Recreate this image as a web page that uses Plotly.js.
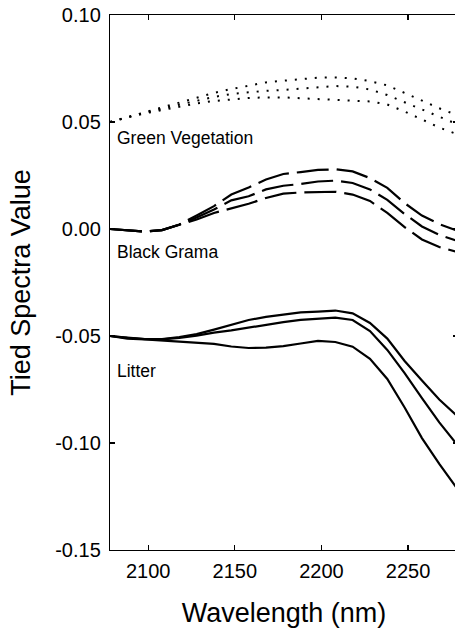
<!DOCTYPE html>
<html>
<head>
<meta charset="utf-8">
<script src="https://cdn.plot.ly/plotly-3.0.1.min.js"></script>
<style>
html,body{margin:0;padding:0;overflow:hidden;background:#fff;}
#chart{width:470px;height:628px;}
</style>
</head>
<body>
<div id="chart"></div>
<script>
// Wavelengths (nm)
const wavelength = [2078,2088,2098,2108,2118,2128,2138,2148,2158,2168,2178,2188,2198,2208,2218,2228,2238,2248,2258,2268,2278];

// Green Vegetation (dotted)
const greenVeg1 = [0.0500,0.0523,0.0544,0.0570,0.0593,0.0614,0.0636,0.0654,0.0671,0.0685,0.0693,0.0700,0.0707,0.0708,0.0704,0.0691,0.0671,0.0636,0.0600,0.0564,0.0533];
const greenVeg2 = [0.0500,0.0523,0.0543,0.0563,0.0582,0.0600,0.0617,0.0631,0.0640,0.0646,0.0650,0.0657,0.0664,0.0668,0.0665,0.0652,0.0626,0.0593,0.0558,0.0524,0.0491];
const greenVeg3 = [0.0500,0.0522,0.0540,0.0556,0.0573,0.0587,0.0598,0.0606,0.0612,0.0615,0.0615,0.0611,0.0607,0.0604,0.0601,0.0596,0.0582,0.0549,0.0512,0.0474,0.0444];

// Black Grama (dashed)
const blackGrama1 = [0.0000,-0.0007,-0.0012,-0.0005,0.0021,0.0063,0.0107,0.0161,0.0194,0.0231,0.0257,0.0266,0.0276,0.0279,0.0269,0.0238,0.0192,0.0121,0.0063,0.0023,-0.0007];
const blackGrama2 = [0.0000,-0.0007,-0.0012,-0.0005,0.0020,0.0054,0.0091,0.0134,0.0153,0.0185,0.0202,0.0210,0.0222,0.0226,0.0215,0.0185,0.0136,0.0070,0.0012,-0.0028,-0.0054];
const blackGrama3 = [0.0000,-0.0007,-0.0012,-0.0005,0.0019,0.0044,0.0075,0.0098,0.0118,0.0145,0.0165,0.0171,0.0173,0.0174,0.0161,0.0131,0.0075,0.0009,-0.0049,-0.0084,-0.0107];

// Litter (solid)
const litter1 = [-0.0500,-0.0509,-0.0514,-0.0514,-0.0505,-0.0491,-0.0470,-0.0449,-0.0425,-0.0411,-0.0400,-0.0390,-0.0386,-0.0381,-0.0394,-0.0439,-0.0512,-0.0617,-0.0708,-0.0797,-0.0871];
const litter2 = [-0.0500,-0.0509,-0.0515,-0.0516,-0.0509,-0.0498,-0.0484,-0.0474,-0.0460,-0.0446,-0.0435,-0.0425,-0.0418,-0.0414,-0.0425,-0.0477,-0.0565,-0.0673,-0.0790,-0.0904,-0.1005];
const litter3 = [-0.0500,-0.0512,-0.0516,-0.0521,-0.0526,-0.0530,-0.0537,-0.0549,-0.0556,-0.0554,-0.0547,-0.0535,-0.0523,-0.0528,-0.0550,-0.0607,-0.0701,-0.0834,-0.0977,-0.1098,-0.1210];

// Ticks and labels
const xTickVals = [2100,2150,2200,2250];
const yTickVals = [-0.15,-0.10,-0.05,0.00,0.05,0.10];
const yTickText = ['-0.15','-0.10','-0.05','0.00','0.05','0.10'];
const groupLabels = ['Green Vegetation','Black Grama','Litter'];

const FONT = 'Liberation Sans, Arial, Helvetica, sans-serif';
const dotLine = {color:'#000', width:2, dash:'2px,8px'};
const dashLine = {color:'#000', width:2.2, dash:'32px,8px'};
const solidLine = {color:'#000', width:2.2};

function tr(y, line){ return {x:wavelength, y:y, type:'scatter', mode:'lines', line:line, hoverinfo:'skip', showlegend:false}; }

const data = [
  tr(greenVeg1, dotLine), tr(greenVeg2, dotLine), tr(greenVeg3, dotLine),
  tr(blackGrama1, dashLine), tr(blackGrama2, dashLine), tr(blackGrama3, dashLine),
  tr(litter1, solidLine), tr(litter2, solidLine), tr(litter3, solidLine)
];

const axisCommon = {
  showgrid:false, zeroline:false, showline:true, linecolor:'#000', linewidth:1.2,
  ticks:'inside', ticklen:5, tickwidth:1.2, tickcolor:'#000', mirror:'ticks',
  tickfont:{family:FONT, size:20, color:'#000'}
};

const layout = {
  width:470, height:628,
  margin:{l:110, r:12, t:15, b:78},
  paper_bgcolor:'#fff', plot_bgcolor:'#fff',
  font:{family:FONT, color:'#000'},
  xaxis: Object.assign({}, axisCommon, {
    range:[2078,2278.8], tickvals:xTickVals, ticktext:xTickVals.map(String),
    ticklabelstandoff:3,
    title:{text:'Wavelength (nm)', font:{family:FONT, size:27, color:'#000'}, standoff:21}
  }),
  yaxis: Object.assign({}, axisCommon, {
    range:[-0.15,0.10], tickvals:yTickVals, ticktext:yTickText,
    ticklabelstandoff:4,
    title:{text:'Tied Spectra Value', font:{family:FONT, size:27, color:'#000'}, standoff:16}
  }),
  annotations:[
    {xref:'x', yref:'y', x:2081, y:0.0425, text:groupLabels[0], showarrow:false, xanchor:'left', yanchor:'middle', font:{family:FONT, size:17.5, color:'#000'}},
    {xref:'x', yref:'y', x:2081, y:-0.0109, text:groupLabels[1], showarrow:false, xanchor:'left', yanchor:'middle', font:{family:FONT, size:17.5, color:'#000'}},
    {xref:'x', yref:'y', x:2081, y:-0.0662, text:groupLabels[2], showarrow:false, xanchor:'left', yanchor:'middle', font:{family:FONT, size:17.5, color:'#000'}}
  ]
};

Plotly.newPlot('chart', data, layout, {displayModeBar:false, staticPlot:true});
</script>
</body>
</html>
